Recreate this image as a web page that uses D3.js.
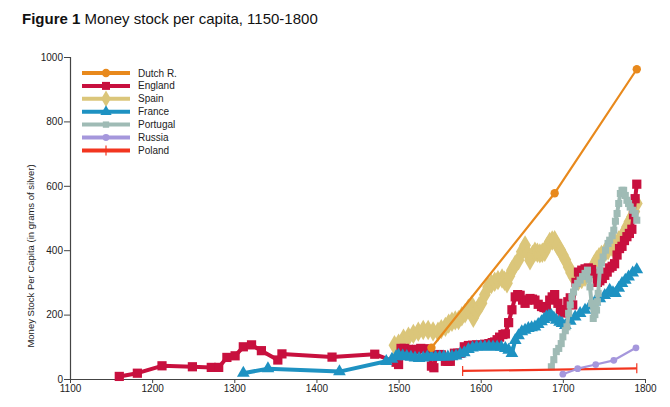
<!DOCTYPE html>
<html>
<head>
<meta charset="utf-8">
<script src="https://cdn.jsdelivr.net/npm/d3@7"></script>
<style>
  html, body { margin: 0; padding: 0; background: #fff; }
  svg { display: block; font-family: "Liberation Sans", Arial, sans-serif; }
</style>
</head>
<body>
<svg id="chart" width="670" height="407"></svg>
<script>
// ---------- data ----------
const xTicks = [1100, 1200, 1300, 1400, 1500, 1600, 1700, 1800];
const yTicks = [0, 200, 400, 600, 800, 1000];

const seriesNames = ["Dutch R.", "England", "Spain", "France", "Portugal", "Russia", "Poland"];

const dutch = [[1540, 97], [1690, 577], [1790, 962]];

const england = [
  [1160, 8], [1182, 18], [1212, 41], [1249, 38], [1272, 36], [1281, 36], [1291, 67], [1301, 72],
  [1311, 100], [1321, 106], [1333, 88], [1353, 59], [1358, 78], [1419, 68], [1471, 77], [1497, 52],
  [1500, 45], [1503, 95], [1507, 95], [1512, 92], [1517, 90], [1522, 92], [1527, 95], [1532, 94],
  [1537, 90], [1540, 40], [1543, 35], [1546, 75], [1549, 76], [1552, 75], [1557, 55], [1560, 55],
  [1563, 55], [1568, 80], [1572, 80], [1575, 80], [1580, 100], [1585, 104], [1590, 105], [1595, 106],
  [1600, 105], [1605, 108], [1610, 110], [1614, 113], [1617, 115], [1620, 122], [1623, 130], [1627, 138],
  [1630, 140], [1634, 175], [1638, 215], [1642, 255], [1645, 262], [1648, 260], [1651, 245], [1654, 235],
  [1657, 245], [1660, 250], [1663, 248], [1666, 245], [1670, 232], [1674, 225], [1677, 222], [1680, 220],
  [1684, 245], [1687, 255], [1690, 262], [1694, 235], [1697, 215], [1700, 205], [1703, 215], [1706, 240],
  [1709, 252], [1712, 230], [1716, 300], [1719, 332], [1723, 338], [1727, 342], [1731, 345], [1735, 340],
  [1738, 328], [1742, 300], [1745, 305], [1748, 312], [1751, 322], [1754, 332], [1757, 345], [1760, 350],
  [1763, 358], [1766, 385], [1769, 405], [1772, 412], [1775, 430], [1778, 442], [1781, 452], [1784, 465],
  [1786, 510], [1788, 560], [1790, 605]
];

const spain = [
  [1495, 105], [1500, 110], [1506, 125], [1512, 131], [1518, 140], [1524, 147], [1530, 152], [1536, 152],
  [1542, 148], [1548, 147], [1552, 155], [1557, 162], [1561, 172], [1565, 178], [1569, 182], [1573, 183],
  [1577, 195], [1581, 204], [1585, 218], [1589, 229], [1591, 190], [1595, 210], [1598, 225], [1601, 235],
  [1605, 262], [1609, 286], [1613, 295], [1617, 302], [1621, 307], [1626, 312], [1629, 305], [1632, 297],
  [1635, 320], [1638, 338], [1642, 355], [1646, 369], [1650, 395], [1654, 415], [1657, 390], [1660, 369],
  [1663, 385], [1666, 395], [1669, 392], [1672, 390], [1675, 392], [1678, 395], [1681, 412], [1684, 426],
  [1687, 430], [1690, 431], [1693, 415], [1697, 400], [1700, 385], [1703, 370], [1707, 348], [1710, 330],
  [1713, 317], [1716, 310], [1719, 305], [1723, 310], [1727, 317], [1731, 328], [1735, 338], [1738, 355],
  [1741, 369], [1744, 378], [1747, 385], [1751, 392], [1755, 400], [1760, 410], [1764, 421], [1768, 430],
  [1772, 441], [1775, 455], [1778, 472], [1781, 488], [1784, 503], [1787, 520], [1790, 545]
];

const france = [
  [1311, 18], [1341, 32], [1428, 23], [1485, 55], [1492, 62], [1497, 70], [1500, 74], [1505, 72],
  [1510, 70], [1515, 68], [1520, 66], [1525, 64], [1530, 66], [1535, 69], [1540, 69], [1545, 68],
  [1550, 68], [1555, 69], [1560, 69], [1565, 70], [1570, 72], [1575, 78], [1580, 82], [1585, 92],
  [1590, 97], [1595, 100], [1600, 100], [1605, 100], [1610, 101], [1615, 100], [1620, 100], [1625, 99],
  [1630, 95], [1634, 90], [1638, 80], [1642, 120], [1646, 135], [1650, 147], [1654, 152], [1658, 157],
  [1662, 160], [1666, 162], [1670, 170], [1674, 178], [1677, 185], [1680, 193], [1683, 196], [1686, 198],
  [1689, 190], [1692, 183], [1696, 177], [1699, 173], [1703, 167], [1709, 180], [1715, 193], [1721, 204],
  [1727, 214], [1733, 227], [1739, 240], [1745, 250], [1751, 260], [1757, 276], [1761, 268], [1764, 266],
  [1768, 282], [1772, 297], [1776, 307], [1780, 317], [1785, 330], [1790, 340]
];

const portugal = [
  [1686, 38], [1689, 60], [1692, 85], [1695, 95], [1698, 110], [1700, 131], [1703, 150], [1705, 162],
  [1707, 204], [1709, 230], [1711, 255], [1713, 270], [1715, 286], [1718, 297], [1721, 307], [1724, 318],
  [1727, 328], [1730, 338], [1732, 310], [1733, 286], [1735, 235], [1737, 188], [1739, 200], [1741, 214],
  [1742, 240], [1743, 266], [1745, 338], [1747, 360], [1749, 379], [1752, 400], [1755, 421], [1757, 431],
  [1760, 445], [1762, 462], [1764, 490], [1766, 514], [1768, 545], [1770, 576], [1772, 586], [1774, 586],
  [1776, 570], [1778, 555], [1780, 545], [1782, 534], [1785, 524], [1788, 514], [1790, 493]
];

const russia = [[1700, 15], [1718, 32], [1740, 45], [1762, 58], [1789, 97]];

const poland = [[1578, 25], [1790, 33]];

// ---------- layout ----------
const svg = d3.select("#chart");
const x = d3.scaleLinear().domain([1100, 1800]).range([70, 645]);
const y = d3.scaleLinear().domain([0, 1000]).range([379, 57]);

// title
const title = svg.append("text").attr("x", 22).attr("y", 24)
  .attr("font-size", 15).attr("fill", "#111");
title.append("tspan").attr("font-weight", "bold").text("Figure 1");
title.append("tspan").text(" Money stock per capita, 1150-1800");

// axes
const axisColor = "#444";
const gx = svg.append("g").attr("transform", `translate(0,${y(0)})`)
  .call(d3.axisBottom(x).tickValues(xTicks).tickFormat(d3.format("d")).tickSize(4).tickPadding(2));
const gy = svg.append("g").attr("transform", `translate(${x(1100)},0)`)
  .call(d3.axisLeft(y).tickValues(yTicks).tickFormat(d3.format("d")).tickSize(6).tickPadding(1));
[gx, gy].forEach(g => {
  g.select(".domain").attr("stroke", axisColor).attr("stroke-width", 1.2);
  g.selectAll(".tick line").attr("stroke", axisColor).attr("stroke-width", 1);
  g.selectAll(".tick text").attr("fill", "#222").attr("font-size", 10)
    .attr("font-family", "Liberation Sans, Arial, sans-serif");
});
gx.select(".domain").attr("d", `M${x(1100) - 6},0.5H${x(1800)}`);

svg.append("text")
  .attr("transform", `translate(34,${(y(0) + y(1000)) / 2 + 38}) rotate(-90)`)
  .attr("text-anchor", "middle").attr("font-size", 9.5).attr("fill", "#222")
  .text("Money Stock Per Capita (in grams of silver)");

// ---------- series ----------
const styles = {
  "Dutch R.": { data: dutch, color: "#e8891c", sym: d3.symbolCircle, size: 55, lw: 2.2 },
  "England": { data: england, color: "#c8103e", sym: d3.symbolSquare, size: 85, lw: 4 },
  "Spain": { data: spain, color: "#dbc67a", sym: d3.symbolDiamond, size: 120, lw: 5 },
  "France": { data: france, color: "#1e92c2", sym: d3.symbolTriangle, size: 70, lw: 4 },
  "Portugal": { data: portugal, color: "#9fbbb5", sym: d3.symbolSquare, size: 50, lw: 4 },
  "Russia": { data: russia, color: "#a597dc", sym: d3.symbolCircle, size: 36, lw: 2.2 },
  "Poland": { data: poland, color: "#f2351f", sym: null, size: 0, lw: 2.2 }
};
const drawOrder = ["Spain", "England", "France", "Portugal", "Poland", "Russia", "Dutch R."];

const line = d3.line().x(d => x(d[0])).y(d => y(d[1]));

drawOrder.forEach(name => {
  const s = styles[name];
  const g = svg.append("g");
  g.append("path").datum(s.data).attr("d", line).attr("fill", "none")
    .attr("stroke", s.color).attr("stroke-width", s.lw).attr("stroke-linejoin", "round");
  if (s.sym) {
    g.selectAll("path.m").data(s.data).enter().append("path").attr("class", "m")
      .attr("transform", d => `translate(${x(d[0])},${y(d[1])})`)
      .attr("d", d3.symbol().type(s.sym).size(s.size)).attr("fill", s.color);
  } else {
    g.selectAll("line.m").data(s.data).enter().append("line").attr("class", "m")
      .attr("x1", d => x(d[0])).attr("x2", d => x(d[0]))
      .attr("y1", d => y(d[1]) - 5).attr("y2", d => y(d[1]) + 5)
      .attr("stroke", s.color).attr("stroke-width", 1.2);
  }
});

// ---------- legend ----------
const legendSizes = { "Dutch R.": 55, "England": 64, "Spain": 80, "France": 55, "Portugal": 40, "Russia": 36 };
const legend = svg.append("g");
seriesNames.forEach((name, i) => {
  const s = styles[name];
  const ly = 73 + i * 12.9;
  legend.append("line").attr("x1", 82).attr("x2", 130).attr("y1", ly).attr("y2", ly)
    .attr("stroke", s.color).attr("stroke-width", 4);
  if (s.sym) {
    legend.append("path").attr("transform", `translate(106,${ly})`)
      .attr("d", d3.symbol().type(s.sym).size(legendSizes[name])).attr("fill", s.color);
  } else {
    legend.append("line").attr("x1", 106).attr("x2", 106).attr("y1", ly - 5).attr("y2", ly + 5)
      .attr("stroke", s.color).attr("stroke-width", 1.2);
  }
  legend.append("text").attr("x", 138).attr("y", ly + 3.5).attr("font-size", 10)
    .attr("fill", "#222").text(name);
});
</script>
</body>
</html>
